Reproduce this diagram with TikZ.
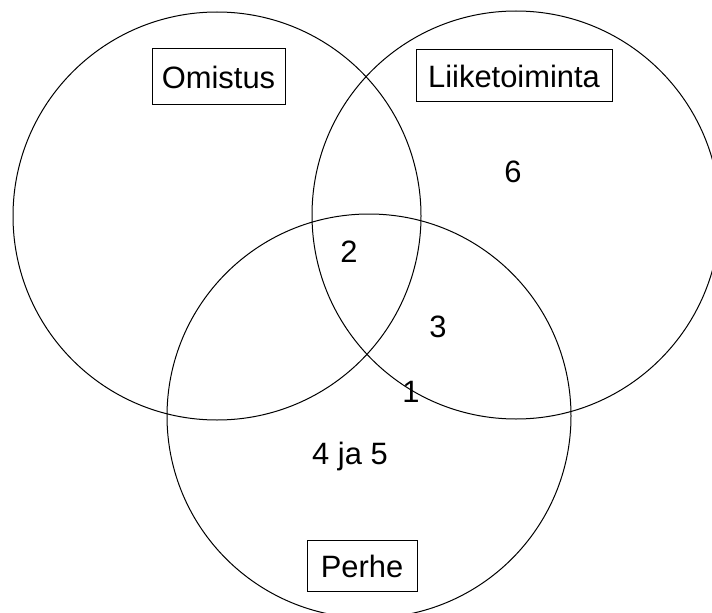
\documentclass[tikz,border=0pt]{standalone}
\usepackage{fontspec}
\setmainfont{Liberation Sans}
\begin{document}
\begin{tikzpicture}[x=1bp,y=-1bp,
  ring/.style={draw=black,line width=1bp},
  labelbox/.style={draw=black,line width=1bp,fill=white,inner sep=0pt,font=\fontsize{31}{36}\selectfont},
  region/.style={inner sep=0pt,font=\fontsize{31}{36}\selectfont}]
\useasboundingbox (0,0) rectangle (712,613);
\fill[white] (0,0) rectangle (712,613);
\draw[ring] (217,216) circle[radius=204];
\draw[ring] (516,215) circle[radius=204];
\draw[ring] (369,416) circle[radius=202];
\node[labelbox,minimum width=133bp,minimum height=56bp] (own) at (218.5,77) {Omistus};
\node[labelbox,minimum width=196bp,minimum height=52bp] (bus) at (514,76) {Liiketoiminta};
\node[labelbox,minimum width=110bp,minimum height=51bp] (fam) at (362,566) {Perhe};
\node[region] (r6) at (513,172) {6};
\node[region] (r2) at (349,252) {2};
\node[region] (r3) at (438,327) {3};
\node[region] (r1) at (411,392) {1};
\node[region] (r45) at (350,457) {4 ja 5};
\end{tikzpicture}
\end{document}
